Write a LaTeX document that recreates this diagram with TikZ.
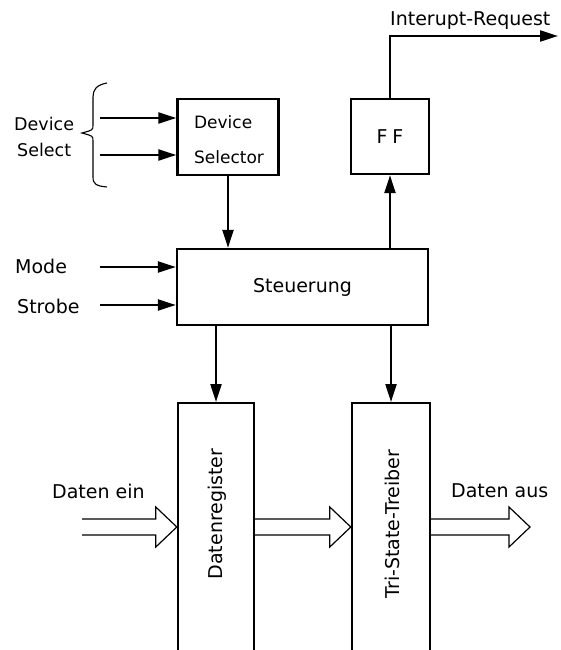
\documentclass[tikz,border=0pt]{standalone}
\usepackage{fontspec}
\setmainfont{DejaVu Sans}
\usetikzlibrary{arrows.meta,calc}
\newcommand\hollowarr[2]{\draw[hollow] let \p1=(#1), \p2=(#2) in
  (\x1,\y1+8pt) -- (\x2-21pt,\y1+8pt) -- (\x2-21pt,\y1+20pt) -- (\x2,\y1)
  -- (\x2-21pt,\y1-20pt) -- (\x2-21pt,\y1-8pt) -- (\x1,\y1-8pt);}
\begin{document}
\begin{tikzpicture}[x=1pt,y=-1pt,
  font=\fontsize{19}{22}\selectfont,
  box/.style={draw, line width=2.4pt, inner sep=0pt},
  conn/.style={line width=2.2pt, -{Triangle[length=18pt,width=11pt]}},
  hollow/.style={line width=1.2pt, line join=miter},
  bracestyle/.style={line width=1.1pt},
  lbl/.style={inner sep=0pt, anchor=base west},
  smalltext/.style={font=\fontsize{17.5}{22}\selectfont}]
\useasboundingbox (0,0) rectangle (560,650);

% boxes
\node[box, minimum width=101pt, minimum height=76pt] (ds) at (228,137) {};
\node[inner sep=0pt, align=left, font=\fontsize{17}{35}\selectfont] (dsl) at (229,140) {Device\\Selector};
\node[box, minimum width=78pt, minimum height=75pt] (ff) at (390,136.5) {F\hspace{5pt}F};
\node[box, minimum width=251pt, minimum height=76pt] (st) at (302.5,287) {Steuerung};
\node[box, minimum width=76pt, minimum height=270pt, anchor=north] (dr) at (216,402) {};
\node[box, minimum width=78pt, minimum height=270pt, anchor=north] (tsb) at (391,402) {};
\node[rotate=90, inner sep=0pt] (drl) at (217,514) {Datenregister};
\node[rotate=90, inner sep=0pt] (tsbl) at (392,524) {Tri-State-Treiber};

% left labels
\node[lbl, smalltext] (devl) at (14,130) {Device};
\node[lbl, smalltext] (sell) at (17,156) {Select};
\node[lbl] (model) at (15,273) {Mode};
\node[lbl] (strl) at (17,313) {Strobe};
\node[lbl] (irql) at (390,26) {Interupt-Request};
\node[lbl] (dinl) at (52,498) {Daten ein};
\node[lbl] (doutl) at (451,497) {Daten aus};

% brace
\draw[bracestyle] (107,83) .. controls (96,85) and (93,90) .. (93,97) -- (93,125)
  .. controls (93,130) .. (82,133) .. controls (93,136) .. (93,141) -- (93,177)
  .. controls (93,184) and (96,186) .. (107,187);

% input arrows
\coordinate (ds1) at (100,118);
\coordinate (ds2) at (100,155);
\coordinate (modein) at (100,267);
\coordinate (strin) at (100,305);
\draw[conn] (ds1) -- (ds1 -| ds.west);
\draw[conn] (ds2) -- (ds2 -| ds.west);
\draw[conn] (modein) -- (modein -| st.west);
\draw[conn] (strin) -- (strin -| st.west);

% vertical connectors
\draw[conn] (ds.south) -- (ds.south |- st.north);
\draw[conn] (st.north -| ff.south) -- (ff.south);
\draw[conn] (st.south -| dr.north) -- (dr.north);
\draw[conn] (st.south -| tsb.north) -- (tsb.north);

% interrupt request
\coordinate (irq) at (558,36);
\draw[conn] (ff.north) -- (ff.north |- irq) -- (irq);

% data arrows
\coordinate (dinS) at (82,527);
\coordinate (doutE) at (530,527);
\hollowarr{dinS}{dr.west |- dinS}
\hollowarr{dr.east |- dinS}{tsb.west |- dinS}
\hollowarr{tsb.east |- dinS}{doutE}
\end{tikzpicture}
\end{document}
